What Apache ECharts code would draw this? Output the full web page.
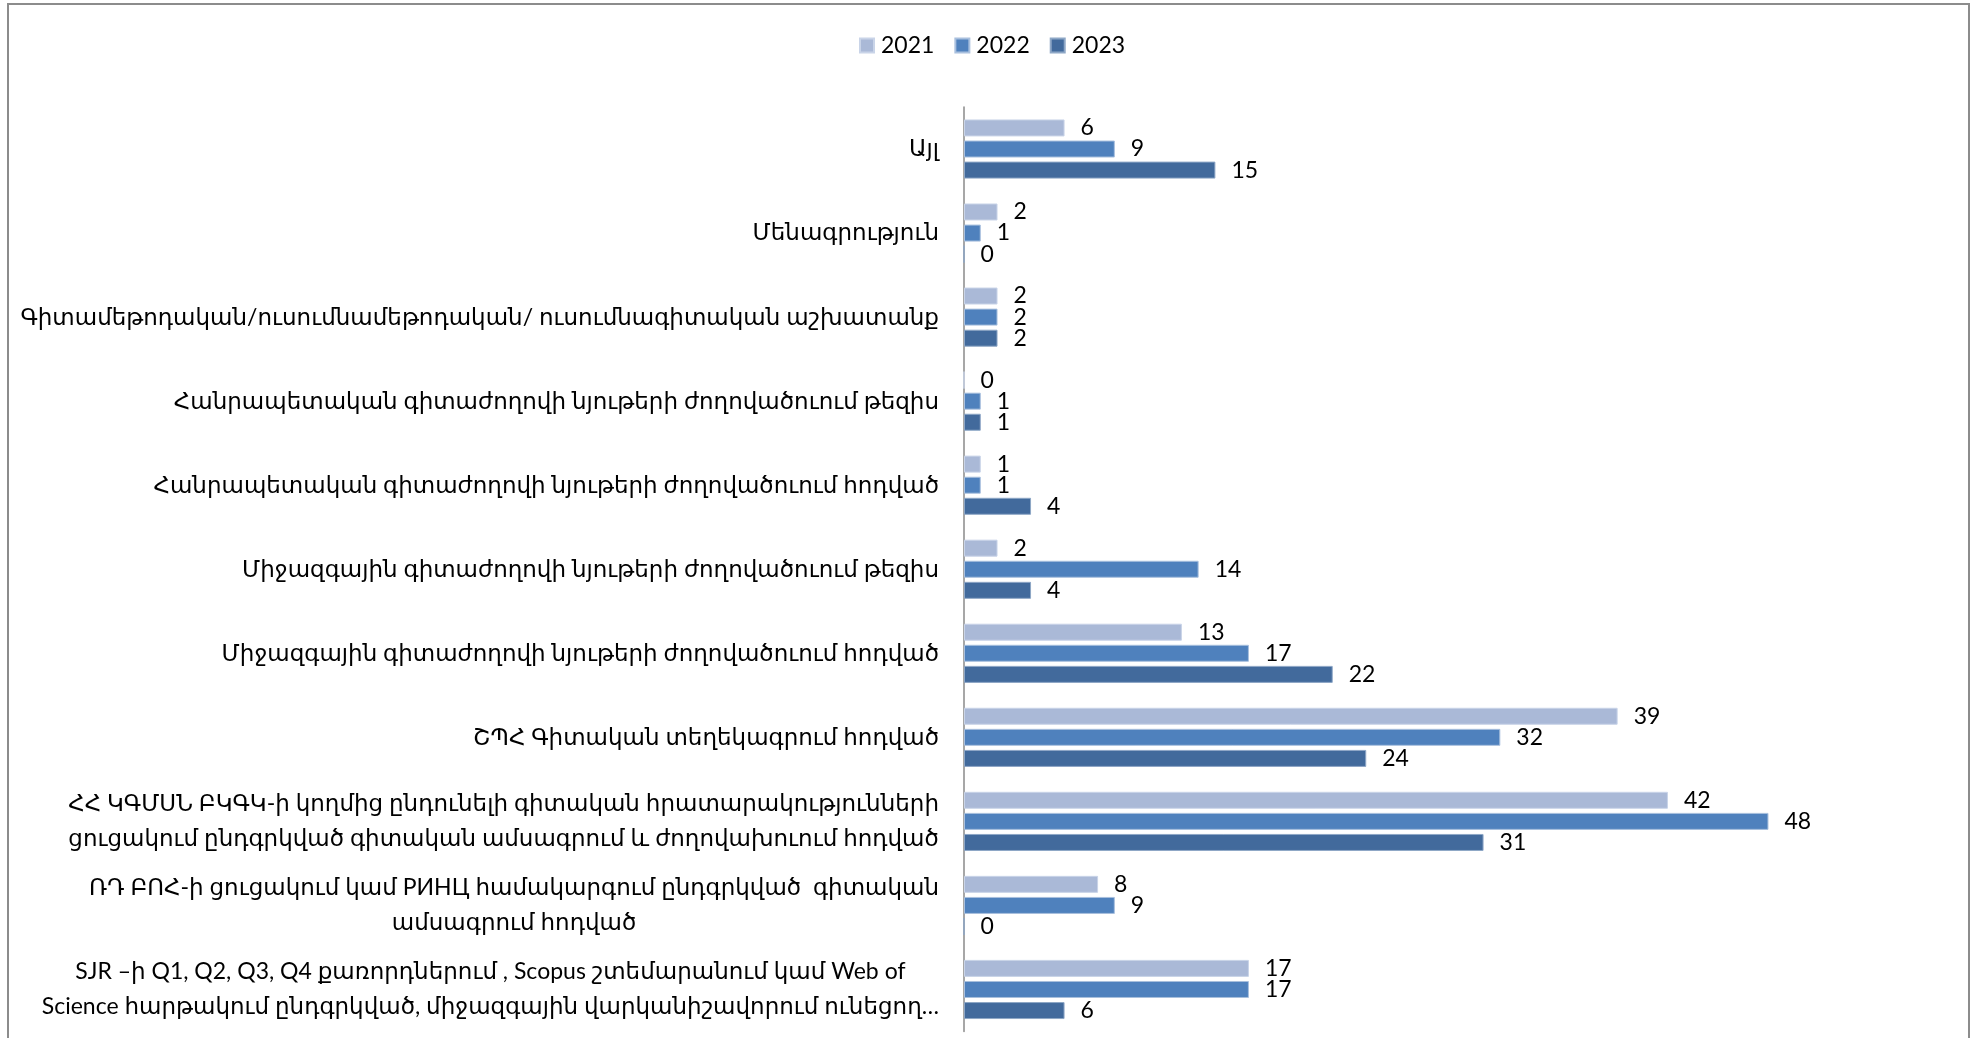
<!DOCTYPE html>
<html>
<head>
<meta charset="utf-8">
<script src="https://cdn.jsdelivr.net/npm/echarts@6/dist/echarts.min.js"></script>
<style>
html,body{margin:0;padding:0;background:#fff;}
#chart{width:1973px;height:1038px;}
</style>
</head>
<body>
<div id="chart"></div>
<script>
// Categories listed top to bottom as in the reference
var categories = [
  "Այլ",
  "Մենագրություն",
  "Գիտամեթոդական/ուսումնամեթոդական/ ուսումնագիտական աշխատանք",
  "Հանրապետական գիտաժողովի նյութերի ժողովածուում թեզիս",
  "Հանրապետական գիտաժողովի նյութերի ժողովածուում հոդված",
  "Միջազգային գիտաժողովի նյութերի ժողովածուում թեզիս",
  "Միջազգային գիտաժողովի նյութերի ժողովածուում հոդված",
  "ՇՊՀ Գիտական տեղեկագրում հոդված",
  "ՀՀ ԿԳՄՍՆ ԲԿԳԿ-ի կողմից ընդունելի գիտական հրատարակությունների\nցուցակում ընդգրկված գիտական ամսագրում և ժողովախուում հոդված",
  "ՌԴ ԲՈՀ-ի ցուցակում կամ РИНЦ համակարգում ընդգրկված  գիտական\nամսագրում հոդված",
  "SJR –ի Q1, Q2, Q3, Q4 քառորդներում , Scopus շտեմարանում կամ Web of\nScience հարթակում ընդգրկված, միջազգային վարկանիշավորում ունեցող…"
];
var seriesNames = ["2021", "2022", "2023"];
var values2021 = [6, 2, 2, 0, 1, 2, 13, 39, 42, 8, 17];
var values2022 = [9, 1, 2, 1, 1, 14, 17, 32, 48, 9, 17];
var values2023 = [15, 0, 2, 1, 4, 4, 22, 24, 31, 0, 6];
var colors = ["#AAB9D7", "#4F81BD", "#426A9C"];
var borders = ["#C9D4E8", "#A9C0DE", "#8EA7C6"];

var chart = echarts.init(document.getElementById('chart'), null, {renderer: 'canvas'});
var labelFont = "Lato, 'DejaVu Sans', sans-serif";
var allValues = [values2021, values2022, values2023];
var series = seriesNames.map(function (n, i) {
  return {
    name: n,
    type: 'bar',
    data: allValues[i],
    barWidth: 17,
    barGap: '24%',
    itemStyle: {color: colors[i], borderColor: borders[i], borderWidth: 1},
    label: {show: true, position: 'right', distance: 16, color: '#000', fontFamily: "Lato, sans-serif", fontSize: 23},
    emphasis: {disabled: true},
    animation: false
  };
});

chart.setOption({
  animation: false,
  color: colors,
  graphic: [{
    type: 'rect', silent: true, z: -10,
    shape: {x: 8, y: 4, width: 1961, height: 1100},
    style: {fill: 'none', stroke: '#8C8C8C', lineWidth: 2}
  }],
  legend: {
    data: seriesNames,
    left: 854, top: 29,
    itemWidth: 14, itemHeight: 14, itemGap: 20,
    icon: 'rect',
    textStyle: {fontFamily: "Lato, sans-serif", fontSize: 23, color: '#000', padding: [0, 0, 0, 2]}
  },
  grid: {left: 964, right: 171, top: 107, bottom: 6.5, containLabel: false},
  xAxis: {
    type: 'value', min: 0, max: 50, show: false,
    splitLine: {show: false}
  },
  yAxis: {
    type: 'category', data: categories, inverse: true,
    axisLine: {show: true, lineStyle: {color: '#8A8A8A', width: 1.5}},
    axisTick: {show: false},
    axisLabel: {
      margin: 25, color: '#000', fontFamily: labelFont, fontSize: 23, lineHeight: 35,
      formatter: function (v) {
        return v.split('\n').map(function (l) { return '{c|' + l + '}'; }).join('\n');
      },
      rich: {c: {align: 'center', fontFamily: labelFont, fontSize: 23, lineHeight: 35, color: '#000'}}
    }
  },
  series: series
});
</script>
</body>
</html>
